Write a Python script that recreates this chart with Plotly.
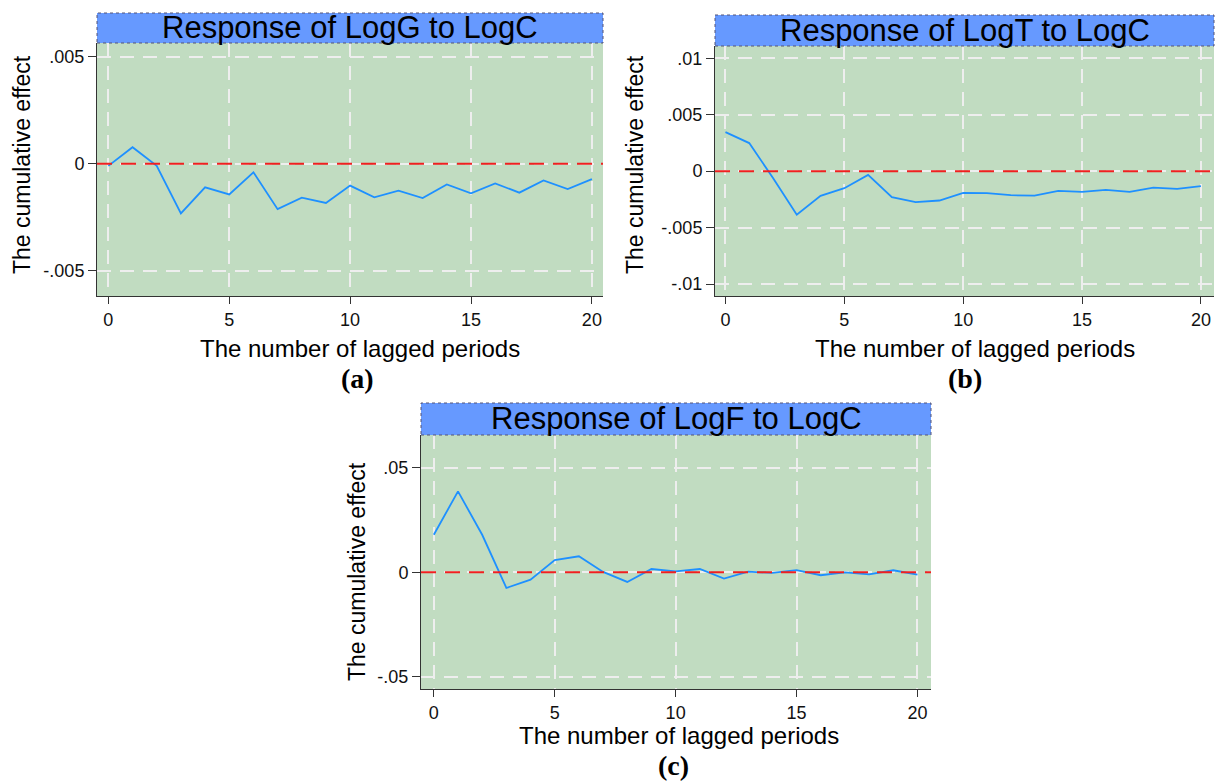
import plotly.graph_objects as go

W, H = 1219, 782

periods = list(range(21))

logG_resp = [-0.0001, 0.00077, -0.0001, -0.00232, -0.0011, -0.00143, -0.0004,
             -0.00212, -0.00158, -0.00183, -0.00102, -0.00157, -0.00126, -0.0016,
             -0.00097, -0.00138, -0.00092, -0.00135, -0.00078, -0.00118, -0.00072]

logT_resp = [0.00346, 0.00249, -0.0006, -0.00385, -0.00219, -0.00151, -0.00033,
             -0.00231, -0.00275, -0.0026, -0.00192, -0.00195, -0.00213, -0.00216,
             -0.00175, -0.00183, -0.00166, -0.00183, -0.00145, -0.00157, -0.00133]

logF_resp = [0.018, 0.0388, 0.018, -0.0075, -0.0035, 0.0059, 0.0077, 0.0002,
             -0.0046, 0.0016, 0.0005, 0.0016, -0.003, 0.0003, -0.0003, 0.0011,
             -0.0014, 0.0, -0.001, 0.001, -0.0011]

titles = ["Response of LogG to LogC", "Response of LogT to LogC", "Response of LogF to LogC"]
letters = ["(a)", "(b)", "(c)"]
x_ticks = [0, 5, 10, 15, 20]
y_tickvals = [[-0.005, 0, 0.005], [-0.01, -0.005, 0, 0.005, 0.01], [-0.05, 0, 0.05]]
y_ticktext = [["-.005", "0", ".005"], ["-.01", "-.005", "0", ".005", ".01"], ["-.05", "0", ".05"]]
x_title = "The number of lagged periods"
y_title = "The cumulative effect"

# panel geometry in pixels: (left, right, band_top, plot_top, plot_bottom)
panels = [
    (97, 603, 13, 43, 296),
    (715, 1214, 15, 46, 296),
    (421, 931, 403, 435, 689),
]
x_ranges = [[-0.47, 20.46], [-0.44, 20.55], [-0.53, 20.56]]
y_ranges = [[-0.00617, 0.00563], [-0.01106, 0.01109], [-0.0559, 0.0658]]
xtitle_pos = [(360, 348), (975, 348), (679, 735)]
ytitle_pos = [(22, 165), (635, 165), (357, 572)]
letter_pos = [(357, 378), (965, 378), (673, 765)]

series = [logG_resp, logT_resp, logF_resp]

BG = "#C1DCC1"
BAND = "#6699FF"
LINE = "#1E90FF"
FONT = "Liberation Sans, Arial, sans-serif"

def px(x):
    return x / W

def py(y):
    return 1 - y / H

fig = go.Figure()
layout = dict(
    width=W, height=H,
    margin=dict(l=0, r=0, t=0, b=0),
    paper_bgcolor="white",
    plot_bgcolor=BG,
    showlegend=False,
    font=dict(family=FONT, color="#111111"),
)
shapes = []
annotations = []

for i in range(3):
    left, right, btop, ptop, pbot = panels[i]
    xa = "xaxis" if i == 0 else f"xaxis{i+1}"
    ya = "yaxis" if i == 0 else f"yaxis{i+1}"
    xr = "x" if i == 0 else f"x{i+1}"
    yr = "y" if i == 0 else f"y{i+1}"

    fig.add_trace(go.Scatter(
        x=periods, y=series[i], mode="lines",
        line=dict(color=LINE, width=1.8),
        xaxis=xr, yaxis=yr,
    ))

    layout[xa] = dict(
        domain=[px(left), px(right)], anchor=yr, range=x_ranges[i],
        tickvals=x_ticks, ticks="outside", ticklen=7, tickcolor="#333333",
        showline=True, linecolor="#333333", linewidth=1, mirror=False,
        showgrid=True, gridcolor="#EEEEEE", gridwidth=1.5, griddash="14px,9px",
        zeroline=False, tickfont=dict(size=18, family=FONT, color="#111111"),
        fixedrange=True,
    )
    layout[ya] = dict(
        domain=[py(pbot), py(ptop)], anchor=xr, range=y_ranges[i],
        tickvals=y_tickvals[i], ticktext=y_ticktext[i],
        ticks="outside", ticklen=8, tickcolor="#333333",
        showline=True, linecolor="#333333", linewidth=1, mirror=False,
        showgrid=True, gridcolor="#EEEEEE", gridwidth=1.5, griddash="14px,9px",
        zeroline=False, tickfont=dict(size=18, family=FONT, color="#111111"),
        fixedrange=True,
    )

    # zero reference line
    shapes.append(dict(
        type="line", xref=f"{xr} domain", yref=yr, x0=0, x1=1, y0=0, y1=0,
        line=dict(color="#F02020", width=2, dash="15px,9px"), layer="above",
    ))
    # title band
    shapes.append(dict(
        type="rect", xref="paper", yref="paper",
        x0=px(left), x1=px(right), y0=py(ptop), y1=py(btop),
        fillcolor=BAND, line=dict(color="#555577", width=1, dash="dot"),
        layer="above",
    ))
    annotations.append(dict(
        text=titles[i], xref="paper", yref="paper",
        x=px((left + right) / 2), y=py((btop + ptop) / 2),
        xanchor="center", yanchor="middle", showarrow=False,
        font=dict(size=31, family=FONT, color="#000000"),
    ))
    annotations.append(dict(
        text=x_title, xref="paper", yref="paper",
        x=px(xtitle_pos[i][0]), y=py(xtitle_pos[i][1]),
        xanchor="center", yanchor="middle", showarrow=False,
        font=dict(size=24, family=FONT, color="#000000"),
    ))
    annotations.append(dict(
        text=y_title, xref="paper", yref="paper",
        x=px(ytitle_pos[i][0]), y=py(ytitle_pos[i][1]),
        xanchor="center", yanchor="middle", showarrow=False, textangle=-90,
        font=dict(size=23, family=FONT, color="#000000"),
    ))
    annotations.append(dict(
        text="<b>" + letters[i] + "</b>", xref="paper", yref="paper",
        x=px(letter_pos[i][0]), y=py(letter_pos[i][1]),
        xanchor="center", yanchor="middle", showarrow=False,
        font=dict(size=28, family="Liberation Serif, Times New Roman, serif", color="#000000"),
    ))

layout["shapes"] = shapes
layout["annotations"] = annotations
fig.update_layout(**layout)
fig.write_html("out.html")
